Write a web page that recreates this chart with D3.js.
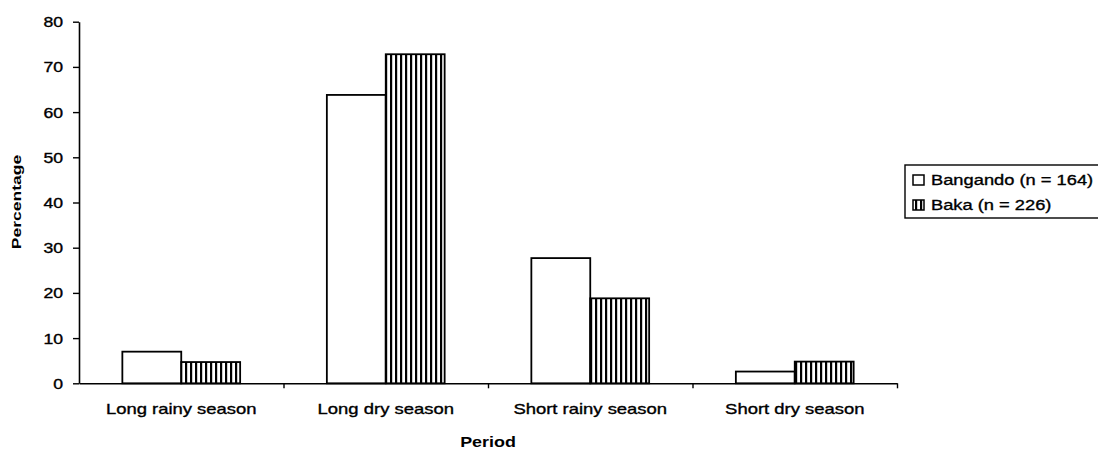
<!DOCTYPE html>
<html>
<head>
<meta charset="utf-8">
<script src="https://cdn.jsdelivr.net/npm/d3@7"></script>
<style>
  html, body { margin: 0; padding: 0; background: #fff; }
  svg { display: block; }
  text { font-family: "Liberation Sans", Arial, Helvetica, sans-serif; fill: #000; }
  text.ink { stroke: #000; stroke-width: 0.35px; }
</style>
</head>
<body>
<svg id="chart" width="1098" height="453"></svg>
<script>
// Seasonal distribution (%) for the two groups
const periods = ["Long rainy season", "Long dry season", "Short rainy season", "Short dry season"];
const bangando = [7.0, 63.8, 27.7, 2.6];
const baka = [4.7, 72.8, 18.8, 4.8];
const seriesNames = ["Bangando (n = 164)", "Baka (n = 226)"];
const yTicks = [0, 10, 20, 30, 40, 50, 60, 70, 80];

const svg = d3.select("#chart");
const plotLeft = 79, plotRight = 897, plotTop = 21.7, plotBottom = 383.3;
const STRETCH = 1.26; // horizontally wide lettering

// Vertical stripe fill
const defs = svg.append("defs");
const pat = defs.append("pattern")
  .attr("id", "stripes").attr("patternUnits", "userSpaceOnUse")
  .attr("width", 5).attr("height", 10);
pat.append("rect").attr("width", 5).attr("height", 10).attr("fill", "#fff");
pat.append("rect").attr("x", 0).attr("width", 2.2).attr("height", 10).attr("fill", "#000");

const x = d3.scaleBand().domain(periods).range([plotLeft, plotRight]).paddingInner(0).paddingOuter(0);
const barW = x.bandwidth() * 0.288;
const y = d3.scaleLinear().domain([0, 80]).range([plotBottom, plotTop]);

// Y axis
const yAxis = svg.append("g")
  .attr("transform", `translate(${plotLeft},0)`)
  .call(d3.axisLeft(y).tickValues(yTicks).tickSize(6).tickSizeOuter(0));
yAxis.select(".domain").attr("stroke", "#000").attr("stroke-width", 1.6);
yAxis.selectAll(".tick line").attr("stroke", "#000").attr("stroke-width", 1.4);
yAxis.selectAll(".tick text")
  .attr("class", "ink")
  .attr("x", 0).attr("dy", "0.36em")
  .attr("transform", `translate(-16,0) scale(${STRETCH},1)`)
  .attr("font-size", 14)
  .attr("font-family", "Liberation Sans, Arial, sans-serif");

// X axis: baseline with ticks between the periods
const xb = d3.scaleLinear().domain([0, periods.length]).range([plotLeft, plotRight]);
const xAxis = svg.append("g")
  .attr("transform", `translate(0,${plotBottom})`)
  .call(d3.axisBottom(xb).tickValues([1, 2, 3, 4]).tickFormat("").tickSize(5).tickSizeOuter(0));
xAxis.select(".domain").attr("stroke", "#000").attr("stroke-width", 1.6);
xAxis.selectAll(".tick line").attr("stroke", "#000").attr("stroke-width", 1.4);

// Bars
const groups = svg.append("g").selectAll("g")
  .data(periods).join("g");
groups.append("rect")
  .attr("x", d => x(d) + x.bandwidth() / 2 - barW)
  .attr("y", (d, i) => y(bangando[i]))
  .attr("width", barW)
  .attr("height", (d, i) => y(0) - y(bangando[i]))
  .attr("fill", "#fff").attr("stroke", "#000").attr("stroke-width", 1.8);
groups.append("rect")
  .attr("x", d => x(d) + x.bandwidth() / 2)
  .attr("y", (d, i) => y(baka[i]))
  .attr("width", barW)
  .attr("height", (d, i) => y(0) - y(baka[i]))
  .attr("fill", "url(#stripes)").attr("stroke", "#000").attr("stroke-width", 1.8);

// Category labels
svg.append("g").selectAll("text")
  .data(periods).join("text")
  .attr("class", "ink")
  .attr("text-anchor", "middle")
  .attr("font-size", 15)
  .attr("transform", d => `translate(${x(d) + x.bandwidth() / 2},414) scale(1.23,1)`)
  .text(d => d);

// Axis titles
svg.append("text")
  .attr("text-anchor", "middle")
  .attr("font-size", 14).attr("font-weight", "bold")
  .attr("transform", `translate(${(plotLeft + plotRight) / 2},447) scale(1.28,1)`)
  .text("Period");
svg.append("text")
  .attr("text-anchor", "middle")
  .attr("font-size", 13).attr("font-weight", "bold")
  .attr("transform", "translate(21,202) rotate(-90) scale(1.35,1)")
  .text("Percentage");

// Legend
const lg = svg.append("g");
lg.append("rect").attr("x", 905).attr("y", 165).attr("width", 210).attr("height", 53)
  .attr("fill", "#fff").attr("stroke", "#000").attr("stroke-width", 1.4);
const fills = ["#fff", "url(#stripes)"];
seriesNames.forEach((name, i) => {
  const cy = 180 + i * 25;
  lg.append("rect").attr("x", 913).attr("y", cy - 5).attr("width", 11).attr("height", 10)
    .attr("fill", fills[i]).attr("stroke", "#000").attr("stroke-width", 1.5);
  lg.append("text")
    .attr("class", "ink")
    .attr("font-size", 15)
    .attr("transform", `translate(931,${cy + 5}) scale(1.22,1)`)
    .text(name);
});
</script>
</body>
</html>
